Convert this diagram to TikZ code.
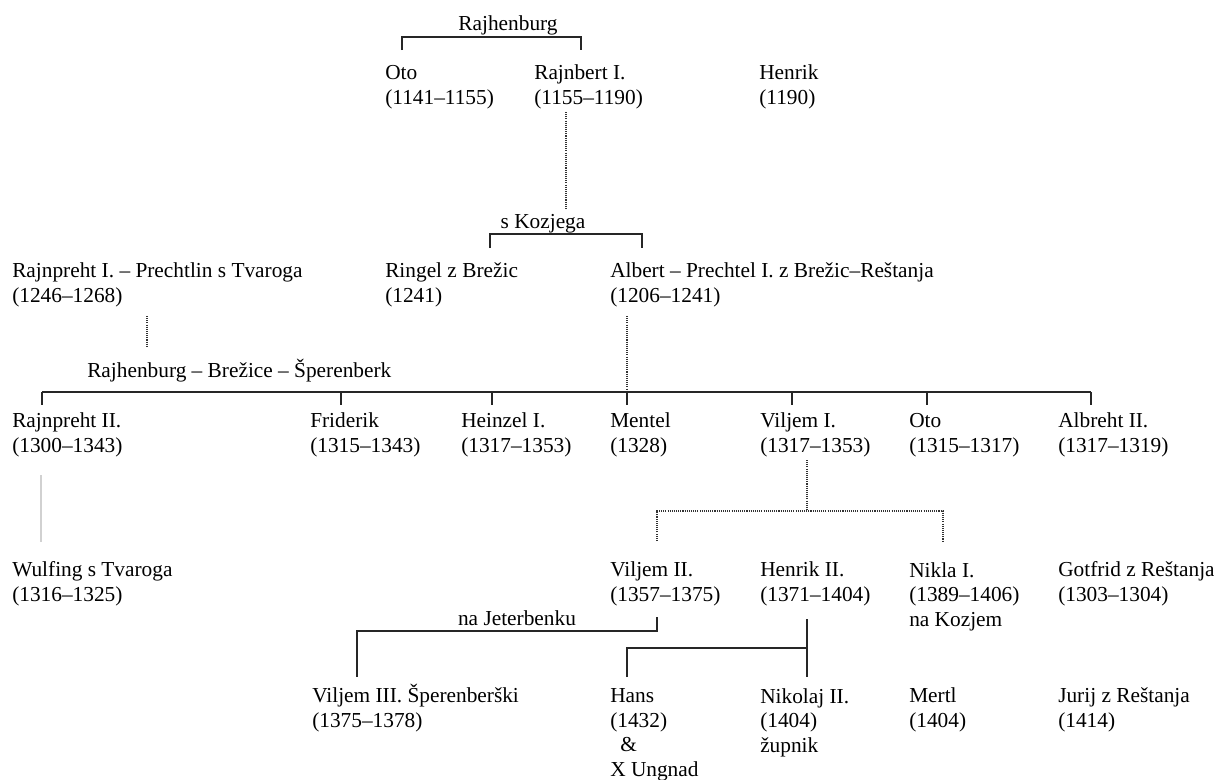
\documentclass[tikz,border=0pt]{standalone}
\usepackage{fontspec}
\setmainfont{Liberation Serif}
\usetikzlibrary{positioning}

\begin{document}
\begin{tikzpicture}[
      x=0.75pt, y=-0.75pt,
      person/.style={anchor=base west, inner sep=0pt, align=left,
                     font=\fontsize{16}{18.3}\selectfont},
      label/.style={anchor=base, inner sep=0pt,
                    font=\fontsize{16}{18.3}\selectfont},
      link/.style={line width=1.3pt, draw=black!85},
      dots/.style={line width=1.1pt, draw=black!80, dash pattern=on 0.8pt off 0.8pt},
      faint/.style={line width=0.8pt, draw=black!18}
    ]
    \useasboundingbox (0,0) rectangle (1214,779);
    % first generation
    \node[person] (oto) at (385,104) {Oto\\(1141--1155)};
    \node[person] (rajnbert) at (534,104) {Rajnbert I.\\(1155--1190)};
    \node[person] (henrik) at (759,104) {Henrik\\(1190)};
    \node[label] (lraj) at (508,30) {Rajhenburg};
    % second generation
    \node[person] (rajnpreht) at (12,302) {Rajnpreht I. -- Prechtlin s Tvaroga\\(1246--1268)};
    \node[person] (ringel) at (385,302) {Ringel z Brežic\\(1241)};
    \node[person] (albert) at (610,302) {Albert -- Prechtel I. z Brežic--Reštanja\\(1206--1241)};
    \node[label] (lkoz) at (543,228) {s Kozjega};
    % third generation
    \node[person] (rajnprehtb) at (12,452) {Rajnpreht II.\\(1300--1343)};
    \node[person] (friderik) at (310,452) {Friderik\\(1315--1343)};
    \node[person] (heinzel) at (461,452) {Heinzel I.\\(1317--1353)};
    \node[person] (mentel) at (610,452) {Mentel\\(1328)};
    \node[person] (viljem) at (760,452) {Viljem I.\\(1317--1353)};
    \node[person] (otob) at (909,452) {Oto\\(1315--1317)};
    \node[person] (albreht) at (1058,452) {Albreht II.\\(1317--1319)};
    \node[person] (lrbs) at (87,377) {Rajhenburg -- Brežice -- Šperenberk};
    % fourth generation
    \node[person] (wulfing) at (12,601) {Wulfing s Tvaroga\\(1316--1325)};
    \node[person] (viljemb) at (610,601) {Viljem II.\\(1357--1375)};
    \node[person] (henrikb) at (760,601) {Henrik II.\\(1371--1404)};
    \node[person] (nikla) at (909,626) {Nikla I.\\(1389--1406)\\na Kozjem};
    \node[person] (gotfrid) at (1058,601) {Gotfrid z Reštanja\\(1303--1304)};
    \node[label] (ljet) at (517,625) {na Jeterbenku};
    % fifth generation
    \node[person] (viljemc) at (312,727) {Viljem III. Šperenberški\\(1375--1378)};
    \node[person] (hans) at (610,776) {Hans\\(1432)\\\hspace{7.5pt}\&\\X Ungnad};
    \node[person] (nikolaj) at (760,752) {Nikolaj II.\\(1404)\\župnik};
    \node[person] (mertl) at (909,727) {Mertl\\(1404)};
    \node[person] (jurij) at (1058,727) {Jurij z Reštanja\\(1414)};

    \coordinate (a1) at (402,50);
    \coordinate (a2) at (581,50);
    \draw[link] (a1) -- ++(0,-13) -| (a2);
    \coordinate (d1) at (566,112);
    \coordinate (d2) at (566,209);
    \draw[dots] (d1) -- (d2);
    \coordinate (b1) at (490,248);
    \coordinate (b2) at (642,248);
    \draw[link] (b1) -- ++(0,-14) -| (b2);
    \coordinate (d3) at (147,316);
    \coordinate (d4) at (147,347);
    \draw[dots] (d3) -- (d4);
    \coordinate (d5) at (627,316);
    \coordinate (h0) at (627,392);
    \draw[dots] (d5) -- (h0);
    \coordinate (hl) at (42,392);
    \coordinate (hr) at (1091,392);
    \draw[link] (hl) -- (hr);
    \foreach \x in {42,341,492,627,792,927,1091}
      \draw[link] (\x,392) -- (\x,405);
    \coordinate (g1) at (41,475);
    \coordinate (g2) at (41,542);
    \draw[faint] (g1) -- (g2);
    \coordinate (d6) at (807,460);
    \coordinate (e1) at (657,541);
    \coordinate (e2) at (943,541);
    \draw[dots] (d6) -- (807,511);
    \draw[dots] (e1) -- ++(0,-30) -| (e2);
    \coordinate (j1) at (657,617);
    \coordinate (j2) at (357,677);
    \draw[link] (j1) |- (357,631) -- (j2);
    \coordinate (k1) at (807,619);
    \coordinate (k2) at (807,677);
    \coordinate (k3) at (627,677);
    \draw[link] (k1) -- (k2);
    \draw[link] (k3) |- (807,648);
  \end{tikzpicture}
\end{document}
